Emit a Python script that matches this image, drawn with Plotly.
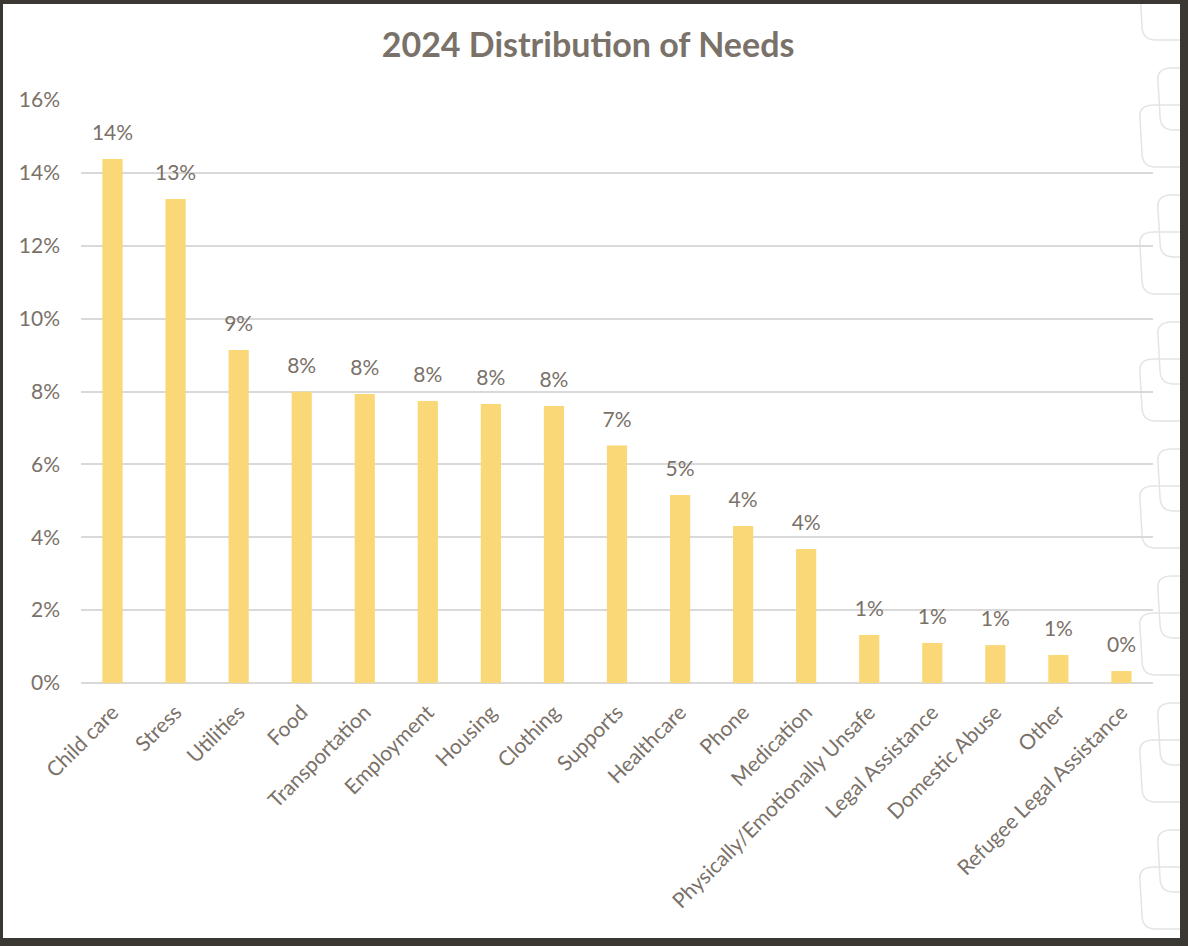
import plotly.graph_objects as go

categories = ["Child care", "Stress", "Utilities", "Food", "Transportation", "Employment",
              "Housing", "Clothing", "Supports", "Healthcare", "Phone", "Medication",
              "Physically/Emotionally Unsafe", "Legal Assistance", "Domestic Abuse",
              "Other", "Refugee Legal Assistance"]
shares = [0.1438, 0.1328, 0.0914, 0.0799, 0.0793, 0.0774, 0.0766, 0.0760, 0.0652,
          0.0516, 0.0431, 0.0368, 0.0132, 0.0110, 0.0104, 0.0077, 0.0033]
y_ticks = [0, 0.02, 0.04, 0.06, 0.08, 0.10, 0.12, 0.14, 0.16]
y_tick_labels = ["0%", "2%", "4%", "6%", "8%", "10%", "12%", "14%", "16%"]

W, H = 1188, 946
L, R, T, B = 81, 35, 100, 263
PW, PH = W - L - R, H - T - B

def px(x):
    return (x - L) / PW

def py(y):
    return (H - B - y) / PH

TXT = "#7a7169"
FONT = "Lato"

fig = go.Figure()
fig.add_trace(go.Bar(x=categories, y=shares, marker=dict(color="#FAD877", line=dict(width=0)),
                     width=0.32, hoverinfo="skip"))
fig.add_trace(go.Scatter(x=categories, y=shares, mode="markers+text",
                         marker=dict(size=20, color="rgba(0,0,0,0)"),
                         texttemplate="%{y:.0%}", textposition="top center",
                         textfont=dict(family=FONT, size=21, color=TXT), hoverinfo="skip"))

shapes = []
for k in range(-1, 8):
    for (x0, y0) in [(1158, 68 + 127 * k), (1140, 105 + 127 * k)]:
        w, h, r = 70, 62, 14
        x1, y1 = x0 + w, y0 + h
        path = (f"M {px(x0 + r)},{py(y0)} L {px(x1)},{py(y0)} "
                f"M {px(x0 + r)},{py(y0)} Q {px(x0 - 2)},{py(y0)} {px(x0)},{py(y0 + r)} "
                f"L {px(x0 + 2)},{py(y1 - r)} Q {px(x0 + 2)},{py(y1)} {px(x0 + r + 2)},{py(y1)} "
                f"L {px(x1)},{py(y1)}")
        shapes.append(dict(type="path", xref="paper", yref="paper", path=path,
                           line=dict(color="#e4e4e4", width=1.5), layer="below"))

border = "#3b3732"
for (x0, y0, x1, y1) in [(0, 0, W, 4), (0, 0, 3, H), (0, 938, W, H), (1180, 0, W, H)]:
    shapes.append(dict(type="rect", xref="paper", yref="paper",
                       x0=px(x0), x1=px(x1), y0=py(y1), y1=py(y0),
                       fillcolor=border, line=dict(width=0), layer="above"))

fig.update_layout(
    width=W, height=H,
    margin=dict(l=L, r=R, t=T, b=B),
    paper_bgcolor="white", plot_bgcolor="white",
    showlegend=False,
    shapes=shapes,
    title=dict(text="<b>2024 Distribution of Needs</b>", x=0.495, xanchor="center",
               y=1 - 45 / H, yanchor="middle",
               font=dict(family=FONT, size=34, color="#7a7169")),
    xaxis=dict(tickangle=-45, tickfont=dict(family=FONT, size=21, color=TXT),
               showgrid=False, showline=False, ticks="", ticklabelstandoff=12,
               range=[-0.5, len(categories) - 0.5]),
    yaxis=dict(range=[0, 0.16], tickvals=y_ticks, ticktext=y_tick_labels,
               tickfont=dict(family=FONT, size=21, color=TXT),
               showgrid=True, gridcolor="#d9d9d9", gridwidth=1.5,
               zeroline=True, zerolinecolor="#d9d9d9", zerolinewidth=1.5,
               ticks="", ticklabelstandoff=20, showline=False),
)

fig.write_html("out.html", config={"displayModeBar": False},
               post_script="document.body.style.margin='0';document.body.style.overflow='hidden';")
